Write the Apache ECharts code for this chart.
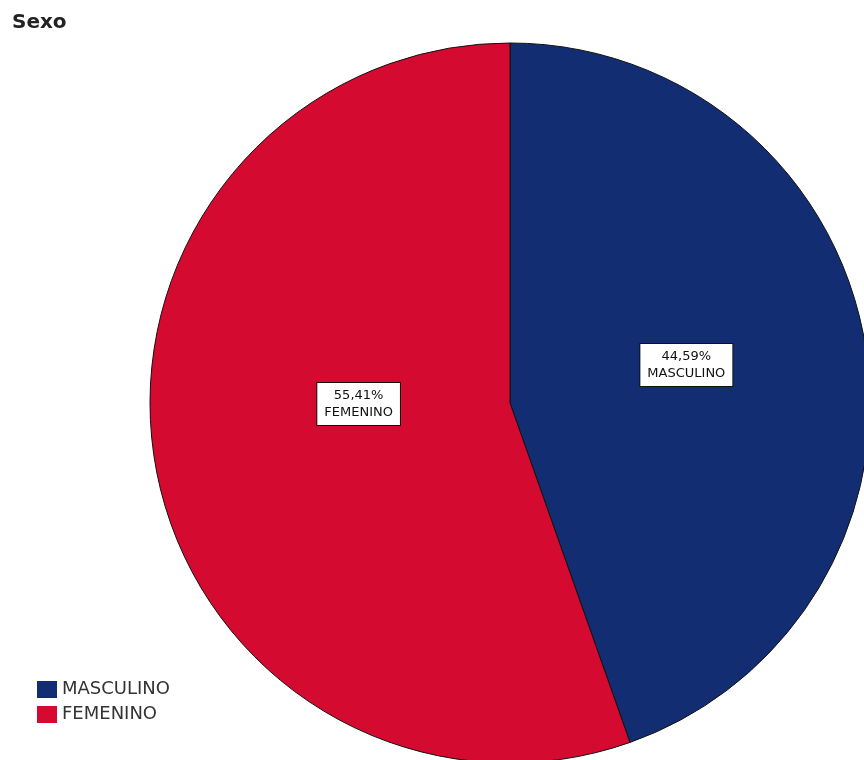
<!DOCTYPE html>
<html>
<head>
<meta charset="utf-8">
<script src="https://cdn.jsdelivr.net/npm/echarts@6/dist/echarts.min.js"></script>
<style>
  html, body { margin: 0; padding: 0; background: #fff; }
  #chart { width: 864px; height: 760px; }
</style>
</head>
<body>
<div id="chart"></div>
<script>
// data
const categories = ['MASCULINO', 'FEMENINO'];
const percents = [44.59, 55.41];
const colors = ['#122d72', '#d50a30'];

const chart = echarts.init(document.getElementById('chart'), null, { renderer: 'canvas' });

const fmt = v => v.toFixed(2).replace('.', ',') + '%';

chart.setOption({
  animation: false,
  title: {
    text: 'Sexo',
    left: 7,
    top: 8,
    textStyle: { fontFamily: 'DejaVu Sans', fontSize: 20, fontWeight: 'bold', color: '#222' }
  },
  legend: {
    orient: 'vertical',
    left: 32,
    top: 675,
    itemWidth: 20,
    itemHeight: 17,
    itemGap: 6,
    icon: 'rect',
    itemStyle: { borderWidth: 0 },
    textStyle: { fontFamily: 'DejaVu Sans', fontSize: 18, lineHeight: 19, color: '#333' },
    data: categories
  },
  series: [{
    type: 'pie',
    center: [510, 403],
    radius: 360,
    startAngle: 90,
    clockwise: true,
    avoidLabelOverlap: false,
    itemStyle: { borderColor: '#111', borderWidth: 1 },
    label: {
      position: 'inside',
      formatter: p => fmt(p.value) + '\n' + p.name,
      fontFamily: 'DejaVu Sans',
      fontSize: 13,
      lineHeight: 17,
      color: '#111',
      backgroundColor: '#fff',
      borderColor: '#111',
      borderWidth: 1,
      padding: [4, 7]
    },
    labelLine: { show: false },
    emphasis: { disabled: true },
    data: categories.map((c, i) => ({
      name: c,
      value: percents[i],
      itemStyle: { color: colors[i] },
      label: { offset: i === 0 ? [-4, -7] : [29, -30] }
    }))
  }]
});
</script>
</body>
</html>
